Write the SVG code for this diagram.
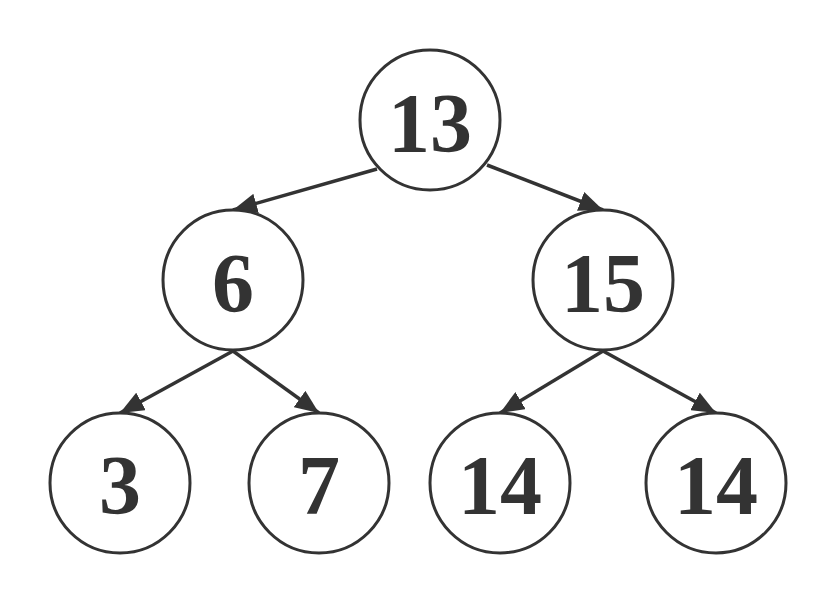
<svg xmlns="http://www.w3.org/2000/svg" width="836" height="603" viewBox="0 0 836 603">
<style>
.n circle{fill:#fff;stroke:#333;stroke-width:3}
.n text{font-family:"Liberation Serif","Times New Roman",serif;font-weight:bold;font-size:84px;fill:#333;text-anchor:middle}
.e line{stroke:#333;stroke-width:3.5}
</style>
<defs>
<marker id="ah" markerUnits="userSpaceOnUse" markerWidth="24" markerHeight="20" viewBox="0 0 24 20" refX="24" refY="10" orient="auto">
<path d="M0,0 L24,10 L0,20 Z" fill="#333"/>
</marker>
</defs>
<rect width="836" height="603" fill="#fff"/>
<g id="edges" class="e">
<line x1="377" y1="169" x2="233" y2="210" marker-end="url(#ah)"/>
<line x1="487" y1="165" x2="603" y2="210" marker-end="url(#ah)"/>
<line x1="233" y1="351" x2="120" y2="413" marker-end="url(#ah)"/>
<line x1="233" y1="351" x2="319" y2="413" marker-end="url(#ah)"/>
<line x1="603" y1="351" x2="500" y2="413" marker-end="url(#ah)"/>
<line x1="603" y1="351" x2="716" y2="413" marker-end="url(#ah)"/>
</g>
<g id="n13" class="n"><circle cx="430" cy="120" r="70"/><text x="430" y="152">13</text></g>
<g id="n6" class="n"><circle cx="233" cy="280" r="70"/><text x="233" y="312">6</text></g>
<g id="n15" class="n"><circle cx="603" cy="280" r="70"/><text x="603" y="312">15</text></g>
<g id="n3" class="n"><circle cx="120" cy="483" r="70"/><text x="120" y="514">3</text></g>
<g id="n7" class="n"><circle cx="319" cy="483" r="70"/><text x="319" y="514">7</text></g>
<g id="n14a" class="n"><circle cx="500" cy="483" r="70"/><text x="500" y="514">14</text></g>
<g id="n14b" class="n"><circle cx="716" cy="483" r="70"/><text x="716" y="514">14</text></g>
</svg>
